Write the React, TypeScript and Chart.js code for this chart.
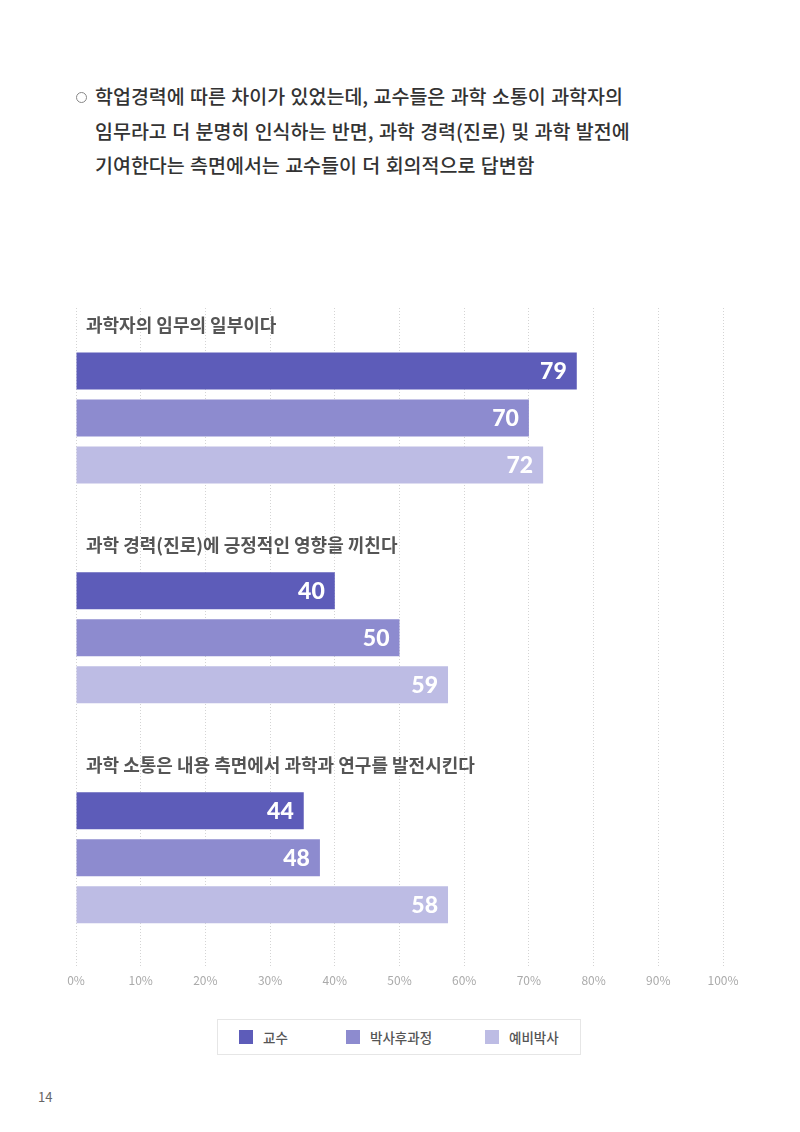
import React, { useEffect, useRef } from "react";
import { Chart, registerables } from "chart.js";

Chart.register(...registerables);

const categories = [
  "과학자의 임무의 일부이다",
  "과학 경력(진로)에 긍정적인 영향을 끼친다",
  "과학 소통은 내용 측면에서 과학과 연구를 발전시킨다",
];
const seriesNames = ["교수", "박사후과정", "예비박사"];
// bar lengths as drawn in the picture (%)
const professorValues = [77.4, 40, 35.2];
const postdocValues = [70, 50, 37.7];
const predocValues = [72.2, 57.5, 57.5];
// numbers printed on the bars
const professorLabels = ["79", "40", "44"];
const postdocLabels = ["70", "50", "48"];
const predocLabels = ["72", "59", "58"];
const colors = ["#5d5cb9", "#8d8bcf", "#bdbce4"];
const tickValues = [0, 10, 20, 30, 40, 50, 60, 70, 80, 90, 100];

const titleLines = [
  "학업경력에 따른 차이가 있었는데, 교수들은 과학 소통이 과학자의",
  "임무라고 더 분명히 인식하는 반면, 과학 경력(진로) 및 과학 발전에",
  "기여한다는 측면에서는 교수들이 더 회의적으로 답변함",
];

const FONT = "'Noto Sans CJK KR', 'Noto Sans', sans-serif";

export default function App() {
  const ref = useRef<HTMLCanvasElement>(null);
  useEffect(() => {
    const labelsBySeries = [professorLabels, postdocLabels, predocLabels];
    const overlay = {
      id: "overlay",
      afterDatasetsDraw(chart: any) {
        const ctx = chart.ctx;
        ctx.save();
        chart.data.datasets.forEach((ds: any, di: number) => {
          const meta = chart.getDatasetMeta(di);
          meta.data.forEach((bar: any, i: number) => {
            ctx.font = `900 23px Lato, ${FONT}`;
            ctx.fillStyle = "#ffffff";
            ctx.textAlign = "right";
            ctx.textBaseline = "middle";
            ctx.fillText(labelsBySeries[di][i], bar.x - 10, bar.y + 1);
          });
        });
        const yScale = chart.scales.y;
        categories.forEach((c, i) => {
          const cy = yScale.getPixelForValue(i);
          ctx.font = `bold 18px ${FONT}`;
          ctx.fillStyle = "#555555";
          ctx.textAlign = "left";
          ctx.textBaseline = "middle";
          ctx.fillText(c, chart.chartArea.left + 10, cy - 93);
        });
        ctx.restore();
      },
    };
    const chart = new Chart(ref.current!, {
      type: "bar",
      data: {
        labels: categories,
        datasets: [
          { label: seriesNames[0], data: professorValues, backgroundColor: colors[0] },
          { label: seriesNames[1], data: postdocValues, backgroundColor: colors[1] },
          { label: seriesNames[2], data: predocValues, backgroundColor: colors[2] },
        ],
      },
      options: {
        indexAxis: "y",
        responsive: false,
        animation: false,
        categoryPercentage: 0.641,
        barPercentage: 0.787,
        layout: { padding: { left: 76, right: 77, top: 18, bottom: 0 } },
        plugins: { legend: { display: false }, tooltip: { enabled: false } },
        scales: {
          x: {
            min: 0,
            max: 100,
            afterBuildTicks(axis: any) {
              axis.ticks = tickValues.map((v) => ({ value: v }));
            },
            ticks: {
              callback: (v: any) => v + "%",
              color: "#aaaaaa",
              font: { family: FONT, size: 12 },
              padding: 6,
            },
            grid: { color: "#d4d4d4", drawTicks: false, lineWidth: 1 },
            border: { display: false, dash: [1, 2] },
          },
          y: {
            display: false,
            grid: { display: false },
          },
        },
      } as any,
      plugins: [overlay],
    });
    return () => chart.destroy();
  }, []);

  return (
    <div style={{ position: "absolute", left: 0, top: 0, width: 800, height: 1132, background: "#fff", fontFamily: FONT }}>
      <div style={{ position: "absolute", left: 76, top: 79 }}>
        {titleLines.map((l, i) => (
          <div key={i} style={{ position: "relative", height: 34.5, lineHeight: "34.5px", fontSize: 19.5, fontWeight: 500, color: "#333", paddingLeft: 19, whiteSpace: "nowrap", wordSpacing: 1 }}>
            {i === 0 && (
              <span style={{ position: "absolute", left: 0, top: 13, width: 9, height: 9, border: "1px solid #888", borderRadius: "50%" }} />
            )}
            {l}
          </div>
        ))}
      </div>
      <canvas ref={ref} width={800} height={704} style={{ position: "absolute", left: 0, top: 290 }} />
      <div style={{ position: "absolute", left: 217, top: 1019, width: 364, height: 36, border: "1px solid #e6e6e6", boxSizing: "border-box" }}>
        {seriesNames.map((s, i) => (
          <div key={s} style={{ position: "absolute", left: [21, 128, 267][i], top: 10, display: "flex", alignItems: "center", whiteSpace: "nowrap" }}>
            <span style={{ display: "inline-block", width: 14, height: 14, background: colors[i], marginRight: 10 }} />
            <span style={{ fontSize: 13.5, color: "#555", fontWeight: 500, lineHeight: "14px" }}>{s}</span>
          </div>
        ))}
      </div>
      <div style={{ position: "absolute", left: 38, top: 1087, fontSize: 13, color: "#666" }}>14</div>
    </div>
  );
}
